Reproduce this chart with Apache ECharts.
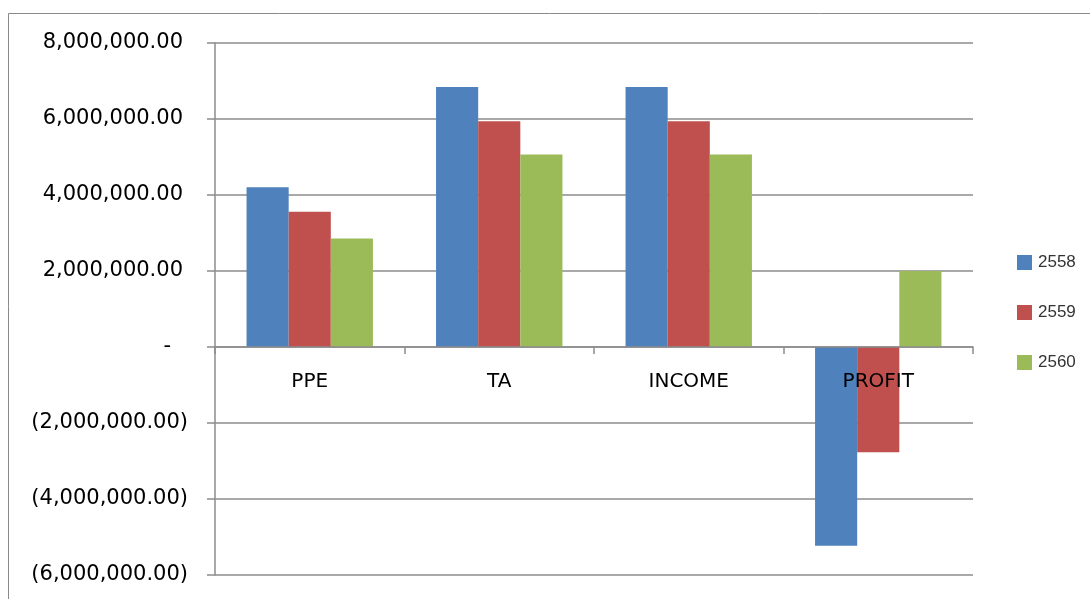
<!DOCTYPE html>
<html>
<head>
<meta charset="utf-8">
<script src="https://cdn.jsdelivr.net/npm/echarts@6/dist/echarts.min.js"></script>
<style>
  html, body { margin: 0; padding: 0; background: #fff; }
  #chart { width: 1090px; height: 599px; }
</style>
</head>
<body>
<div id="chart"></div>
<script>
// Categories and yearly series (Buddhist-era years)
const categories = ['PPE', 'TA', 'INCOME', 'PROFIT'];
const seriesNames = ['2558', '2559', '2560'];
const values2558 = [4205000, 6840000, 6840000, -5230000];
const values2559 = [3556000, 5940000, 5940000, -2770000];
const values2560 = [2857000, 5064000, 5064000, 2000000];
const colors = ['#4F81BD', '#C0504D', '#9BBB59'];

const yMin = -6000000;
const yMax = 8000000;
const axisFont = 'DejaVu Sans';
const gridColor = '#8c8c8c';

// Plot box
const gridTop = 43;
const gridBottom = 24;
const plotHeight = 599 - gridTop - gridBottom;
// Shift the category axis up from the plot bottom to the zero line
const zeroOffset = -plotHeight * (0 - yMin) / (yMax - yMin);

// Accounting-style number: 1,234.00 / (1,234.00) / -
function accounting(v) {
  if (v === 0) return '{dash|-}';
  const s = Math.abs(v).toLocaleString('en-US', { minimumFractionDigits: 2, maximumFractionDigits: 2 });
  return v < 0 ? '{neg|(' + s + ')}' : '{pos|' + s + '}';
}

const chart = echarts.init(document.getElementById('chart'), null, { renderer: 'canvas' });

const allSeries = [values2558, values2559, values2560].map((data, i) => ({
  name: seriesNames[i],
  type: 'bar',
  data: data,
  barGap: '0%',
  barCategoryGap: '33.3%',
  itemStyle: { color: colors[i] },
  emphasis: { disabled: true }
}));

chart.setOption({
  animation: false,
  graphic: [{
    type: 'rect',
    shape: { x: 8.5, y: 13.5, width: 1200, height: 700 },
    style: { fill: 'none', stroke: '#8a8a8a', lineWidth: 1 },
    silent: true
  }],
  grid: { left: 215, right: 117, top: gridTop, bottom: gridBottom, containLabel: false, outerBoundsMode: 'none' },
  legend: {
    orient: 'vertical',
    left: 1012,
    top: 249,
    itemWidth: 15,
    itemHeight: 15,
    itemGap: 33,
    icon: 'rect',
    data: seriesNames,
    textStyle: { fontFamily: 'Liberation Sans', fontSize: 17, lineHeight: 15, color: '#333', padding: [0, 0, 0, 1] }
  },
  xAxis: {
    type: 'category',
    data: categories,
    offset: zeroOffset,
    axisLine: { onZero: false, lineStyle: { color: gridColor, width: 1.5 } },
    axisTick: { show: true, length: 7, lineStyle: { color: gridColor, width: 1.5 } },
    axisLabel: {
      margin: 25,
      fontFamily: axisFont,
      fontSize: 20,
      color: '#000'
    },
    z: 5
  },
  yAxis: {
    type: 'value',
    min: yMin,
    max: yMax,
    interval: 2000000,
    axisLine: { show: true, lineStyle: { color: gridColor, width: 1.5 } },
    axisTick: { show: true, length: 8, inside: false, lineStyle: { color: gridColor, width: 1.5 } },
    splitLine: { show: true, lineStyle: { color: gridColor, width: 1.5 } },
    axisLabel: {
      margin: 27,
      formatter: accounting,
      rich: {
        pos: { fontFamily: axisFont, fontSize: 21, color: '#000', padding: [0, 5, 0, 0] },
        neg: { fontFamily: axisFont, fontSize: 21, color: '#000' },
        dash: { fontFamily: axisFont, fontSize: 21, color: '#000', padding: [0, 17, 0, 0] }
      }
    }
  },
  series: allSeries
});
</script>
</body>
</html>
